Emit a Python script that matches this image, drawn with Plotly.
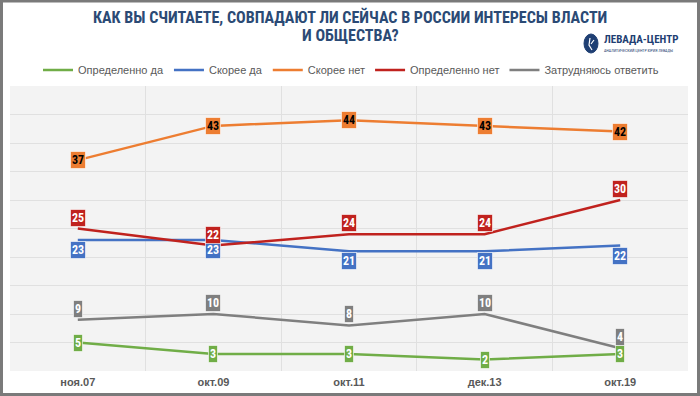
import plotly.graph_objects as go

categories = ["ноя.07", "окт.09", "окт.11", "дек.13", "окт.19"]
definitely_yes = [5, 3, 3, 2, 3]
rather_yes = [23, 23, 21, 21, 22]
rather_no = [37, 43, 44, 43, 42]
definitely_no = [25, 22, 24, 24, 30]
hard_to_say = [9, 10, 8, 10, 4]

series_names = ["Определенно да", "Скорее да", "Скорее нет", "Определенно нет", "Затрудняюсь ответить"]
series_values = [definitely_yes, rather_yes, rather_no, definitely_no, hard_to_say]
colors = ["#70AD47", "#4472C4", "#ED7D31", "#C0221E", "#7F7F7F"]
label_text_colors = ["white", "white", "black", "white", "white"]
label_shift = [0, -10, 0, 11, 11]

W, H = 700, 396
ML, MR, MT, MB = 10, 12, 86, 25
NARROW = "Liberation Sans Narrow, Arial Narrow, Roboto Condensed, Liberation Sans, sans-serif"
REG = "Liberation Sans, Arial, sans-serif"

fig = go.Figure()
for name, vals, col in zip(series_names, series_values, colors):
    fig.add_trace(go.Scatter(x=categories, y=vals, name=name, mode="lines",
                             line=dict(color=col, width=2.5)))

annotations = []
for vals, col, tc, sh in zip(series_values, colors, label_text_colors, label_shift):
    for c, v in zip(categories, vals):
        annotations.append(dict(x=c, y=v, xref="x", yref="y", text=f"<b>{v}</b>",
                                showarrow=False, yshift=sh, bgcolor=col,
                                bordercolor="rgba(255,255,255,0.6)", borderwidth=1, borderpad=1,
                                font=dict(family=NARROW, size=12, color=tc)))

pw = W - ML - MR
ph = H - MT - MB
def px(x):
    return (x - ML) / pw
def py(y):
    return (H - MB - y) / ph

TITLE_COLOR = "#2B4A75"
# title (two lines)
annotations.append(dict(x=px(350), y=py(17), xref="paper", yref="paper", showarrow=False,
                        text="<b>КАК ВЫ СЧИТАЕТЕ, СОВПАДАЮТ ЛИ СЕЙЧАС В РОССИИ ИНТЕРЕСЫ ВЛАСТИ</b>",
                        font=dict(family=NARROW, size=16, color=TITLE_COLOR),
                        xanchor="center", yanchor="middle"))
annotations.append(dict(x=px(350), y=py(36), xref="paper", yref="paper", showarrow=False,
                        text="<b>И ОБЩЕСТВА?</b>",
                        font=dict(family=NARROW, size=16, color=TITLE_COLOR),
                        xanchor="center", yanchor="middle"))
# logo text
annotations.append(dict(x=px(602), y=py(40), xref="paper", yref="paper", showarrow=False,
                        text="<b>ЛЕВАДА-ЦЕНТР</b>", font=dict(family=NARROW, size=11, color="#1F3F73"),
                        xanchor="left", yanchor="middle"))
annotations.append(dict(x=px(602), y=py(50), xref="paper", yref="paper", showarrow=False,
                        text="АНАЛИТИЧЕСКИЙ ЦЕНТР ЮРИЯ ЛЕВАДЫ", font=dict(family=NARROW, size=4, color="#1F3F73"),
                        xanchor="left", yanchor="middle"))

shapes = [
    dict(type="rect", xref="paper", yref="paper", x0=px(1.5), x1=px(698.5), y0=py(1), y1=py(394.5),
         line=dict(color="#7A7A7A", width=3), fillcolor="rgba(0,0,0,0)", layer="above"),
    dict(type="circle", xref="paper", yref="paper", x0=px(584), x1=px(598), y0=py(34), y1=py(53),
         line=dict(color="#1F3F73", width=1), fillcolor="#1F3F73"),
    dict(type="path", xref="paper", yref="paper",
         path=f"M {px(590)},{py(38)} L {px(589)},{py(45)} L {px(592)},{py(50)} M {px(591)},{py(44)} L {px(594)},{py(40)}",
         line=dict(color="white", width=1.2)),
]

fig.update_layout(
    width=W, height=H,
    margin=dict(l=ML, r=MR, t=MT, b=MB, autoexpand=False),
    paper_bgcolor="white", plot_bgcolor="#F3F3F3",
    font=dict(family=NARROW, color="#595959"),
    showlegend=True,
    legend=dict(orientation="h", x=px(351), xanchor="center", y=py(70), yanchor="middle",
                font=dict(family=REG, size=11, color="#595959"),
                itemwidth=30, bgcolor="rgba(0,0,0,0)"),
    xaxis=dict(type="category", tickson="boundaries", showgrid=True, gridcolor="#E0E0E0",
               gridwidth=1, ticks="", range=[-0.5, 4.5], showline=False, zeroline=False,
               ticklabelstandoff=3,
               tickfont=dict(family=REG, size=11, color="#595959")),
    yaxis=dict(range=[0, 50], dtick=5, showgrid=True, gridcolor="#E0E0E0", gridwidth=1,
               showticklabels=False, zeroline=False, ticks=""),
    annotations=annotations, shapes=shapes,
)
fig.update_xaxes(tickprefix="<b>", ticksuffix="</b>")

fig.write_html("out.html", config={"displayModeBar": False},
               post_script="document.body.style.margin='0';")
